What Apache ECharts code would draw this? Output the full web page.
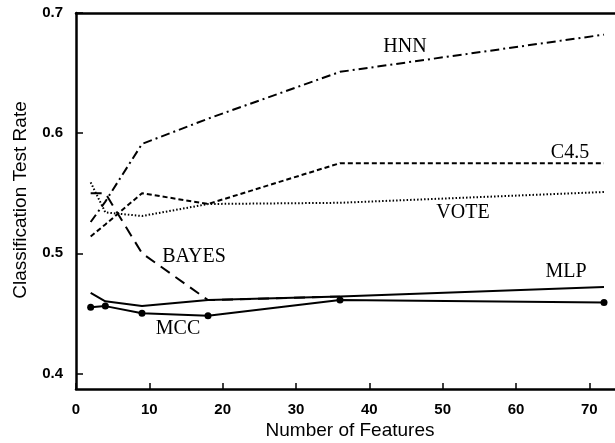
<!DOCTYPE html>
<html>
<head>
<meta charset="utf-8">
<script src="https://cdn.jsdelivr.net/npm/echarts@6/dist/echarts.min.js"></script>
<style>html,body{margin:0;padding:0;background:#fff}#c{width:615px;height:443px}</style>
</head>
<body>
<div id="c"></div>
<script>
var features = [2, 4, 9, 18, 36, 72];
var hnn   = [0.526, 0.543, 0.591, 0.612, 0.651, 0.682];
var c45   = [0.514, 0.524, 0.550, 0.541, 0.575, 0.575];
var vote  = [0.559, 0.534, 0.531, 0.541, 0.542, 0.551];
var bayes = [0.550, 0.550, 0.500, 0.461, 0.464];
var mlp   = [0.467, 0.460, 0.456, 0.461, 0.464, 0.472];
var mcc   = [0.455, 0.456, 0.450, 0.448, 0.461, 0.459];
var xTicks = [0, 10, 20, 30, 40, 50, 60, 70];
var yTicks = [0.4, 0.5, 0.6, 0.7];
var seriesNames = ['HNN', 'C4.5', 'VOTE', 'BAYES', 'MLP', 'MCC'];

function pairs(vals) { return vals.map(function (v, i) { return [features[i], v]; }); }

var sansFont = '"Liberation Sans", Arial, sans-serif';
var serifFont = '"Liberation Serif", "Times New Roman", serif';
var lineW = 2;

function mkLine(name, vals, dash, extra) {
  var s = {
    name: name, type: 'line', data: pairs(vals), symbol: 'none', silent: true,
    lineStyle: { color: '#000', width: lineW, type: dash },
    animation: false, z: 3
  };
  if (extra) for (var k in extra) s[k] = extra[k];
  return s;
}

function label(text, x, y) {
  return { type: 'text', x: x, y: y, style: { text: text, font: '20px ' + serifFont, fill: '#000', textAlign: 'center', textVerticalAlign: 'middle' } };
}

var chart = echarts.init(document.getElementById('c'), null, { renderer: 'canvas' });
chart.setOption({
  backgroundColor: '#fff',
  animation: false,
  grid: { left: 76, right: 0, top: 13, bottom: 54, containLabel: false, outerBoundsMode: 'none' },
  xAxis: [{
    type: 'value', min: 0, max: 73.5, position: 'bottom',
    axisLine: { show: true, onZero: false, lineStyle: { color: '#000', width: 2.5 } },
    axisTick: { show: true, inside: true, length: 6, customValues: xTicks, lineStyle: { color: '#000', width: 1.5 } },
    axisLabel: { customValues: xTicks, margin: 13, color: '#000', fontSize: 15, fontWeight: 'bold', fontFamily: sansFont },
    splitLine: { show: false }
  }, {
    type: 'value', min: 0, max: 73.5, position: 'top',
    axisLine: { show: true, onZero: false, lineStyle: { color: '#000', width: 2.5 } },
    axisTick: { show: false }, axisLabel: { show: false }, splitLine: { show: false }
  }],
  yAxis: {
    type: 'value', min: 0.387, max: 0.7,
    axisLine: { show: true, onZero: false, lineStyle: { color: '#000', width: 2.5 } },
    axisTick: { show: true, inside: true, length: 7, customValues: yTicks, lineStyle: { color: '#000', width: 1.5 } },
    axisLabel: { customValues: yTicks, margin: 13, color: '#000', fontSize: 15, fontWeight: 'bold', fontFamily: sansFont,
      formatter: function (v) { return v.toFixed(1); } },
    splitLine: { show: false }
  },
  graphic: [
    { type: 'text', x: 350, y: 431, style: { text: 'Number of Features', font: '19px ' + sansFont, fill: '#000', textAlign: 'center', textVerticalAlign: 'middle' } },
    { type: 'text', x: 21, y: 200, rotation: Math.PI / 2, style: { text: 'Classification Test Rate', font: '19px ' + sansFont, fill: '#000', textAlign: 'center', textVerticalAlign: 'middle' } },
    label(seriesNames[0], 405, 47),
    label(seriesNames[1], 570, 153),
    label(seriesNames[2], 463, 213),
    label(seriesNames[3], 194, 257),
    label(seriesNames[4], 566, 272),
    label(seriesNames[5], 178, 329)
  ],
  series: [
    mkLine('HNN', hnn, [9, 4, 2, 4]),
    mkLine('C4.5', c45, [5, 3]),
    mkLine('VOTE', vote, [1.5, 2]),
    mkLine('BAYES', bayes, [11, 7]),
    mkLine('MLP', mlp, 'solid'),
    mkLine('MCC', mcc, 'solid', { symbol: 'circle', symbolSize: 7, showSymbol: true, itemStyle: { color: '#000' } })
  ]
});
</script>
</body>
</html>
